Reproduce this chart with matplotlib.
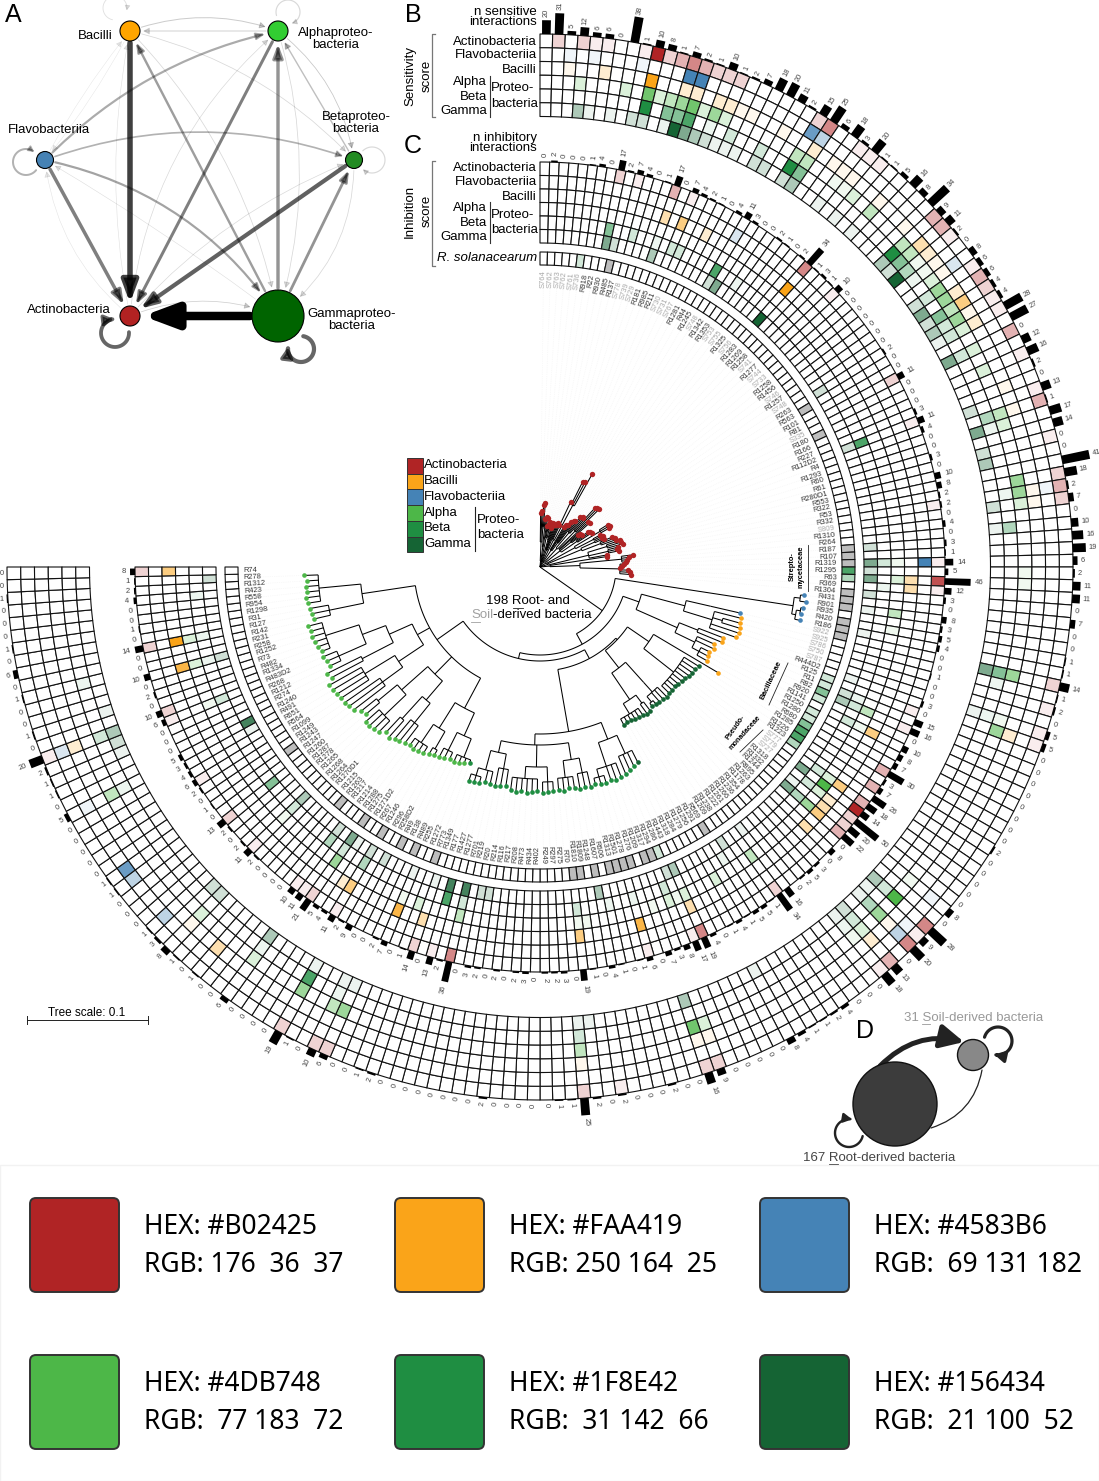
import numpy as np
import matplotlib
matplotlib.use('Agg')
import matplotlib.pyplot as plt
from matplotlib.collections import PolyCollection, LineCollection
from matplotlib.patches import Circle, FancyArrowPatch, FancyBboxPatch, Rectangle
from matplotlib.path import Path

plt.rcParams['font.family'] = ['Liberation Sans', 'DejaVu Sans']

# taxa
taxa = ['Actinobacteria', 'Flavobacteriia', 'Bacilli', 'Alpha', 'Beta', 'Gamma']
row_colors = ['#B02425', '#4583B6', '#FAA419', '#4DB748', '#1F8E42', '#156434']
level_alpha = [0, 0.08, 0.2, 0.35, 0.55, 0.8, 1.0]

# number of interactions, clockwise from the top
n_sensitive = [20, 31, 5, 12, 6, 6, 0, 38, 1, 10, 8, 1, 7, 2, 1, 10, 1, 2, 7, 18,
               20, 11, 2, 15, 25, 6, 18, 3, 20, 1, 1, 5, 16, 8, 34, 9, 11, 2, 0, 8,
               6, 6, 4, 4, 28, 27, 0, 12, 16, 2, 0, 13, 1, 17, 14, 0, 0, 41, 18, 2,
               7, 0, 10, 16, 19, 6, 2, 11, 11, 0, 7, 0, 0, 1, 1, 14, 1, 2, 0, 5,
               5, 0, 0, 0, 0, 0, 0, 0, 0, 2, 0, 0, 0, 0, 0, 8, 0, 28, 9, 20,
               0, 13, 18, 0, 0, 0, 4, 2, 1, 1, 4, 8, 0, 0, 0, 0, 0, 9, 16, 0,
               0, 2, 0, 0, 0, 2, 0, 2, 25, 1, 1, 0, 0, 0, 0, 0, 2, 0, 0, 0,
               0, 0, 0, 0, 0, 2, 1, 0, 0, 6, 10, 0, 1, 19, 0, 0, 0, 0, 6, 0,
               0, 1, 0, 1, 8, 3, 1, 0, 0, 0, 1, 1, 0, 0, 0, 0, 0, 5, 0, 1,
               1, 2, 20, 0, 1, 0, 0, 1, 0, 6, 0, 1, 0, 0, 0, 1, 0, 0]
n_inhibitory = [0, 2, 0, 0, 0, 1, 4, 0, 17, 2, 7, 4, 0, 1, 17, 0, 7, 4, 2, 1,
                0, 4, 11, 3, 0, 0, 2, 1, 0, 2, 34, 1, 3, 1, 10, 0, 0, 0, 0, 0,
                0, 0, 2, 0, 0, 11, 0, 0, 0, 3, 11, 4, 0, 0, 3, 0, 10, 8, 2, 2,
                0, 4, 0, 3, 1, 14, 5, 46, 12, 3, 0, 8, 3, 5, 4, 0, 0, 1, 0, 0,
                3, 0, 15, 16, 0, 10, 8, 7, 30, 3, 7, 26, 18, 14, 50, 20, 22, 0, 8, 0,
                3, 5, 2, 0, 16, 34, 1, 5, 5, 1, 4, 1, 0, 4, 19, 17, 8, 3, 7, 0,
                6, 1, 0, 1, 4, 0, 1, 19, 0, 3, 2, 2, 0, 3, 2, 0, 2, 0, 2, 3,
                0, 36, 2, 13, 0, 14, 1, 0, 7, 2, 0, 0, 9, 2, 11, 4, 5, 21, 11, 10,
                0, 0, 0, 0, 2, 11, 2, 0, 2, 13, 0, 1, 0, 2, 6, 4, 3, 5, 0, 0,
                0, 6, 10, 0, 2, 0, 10, 0, 0, 14, 0, 1, 0, 0, 4, 2, 1, 8]

# score cells as (column, shade level), one list per row
sens_actino = [(1, 2), (3, 2), (4, 1), (5, 1), (8, 1), (9, 6), (10, 2), (11, 3), (12, 4), (13, 3), (14, 2), (15, 2),
               (16, 2), (23, 2), (24, 4), (27, 1), (28, 1), (29, 1), (35, 3), (36, 3), (37, 1), (40, 1), (41, 3),
               (42, 2), (43, 1), (44, 1), (46, 3), (48, 1), (51, 1), (52, 3), (55, 1), (58, 2), (59, 3), (60, 2),
               (75, 2), (77, 1), (79, 1), (80, 1), (97, 4), (98, 1), (99, 4), (101, 3), (102, 1), (117, 2), (118, 2),
               (125, 1), (128, 2), (149, 2), (150, 2), (153, 2), (182, 1)]
sens_flavo = [(2, 1), (4, 1), (8, 1), (12, 6), (13, 6), (23, 5), (24, 3), (39, 2), (59, 1), (95, 1), (98, 1), (99, 3),
              (166, 3), (170, 3), (171, 5), (177, 1), (182, 2)]
sens_bacilli = [(2, 1), (5, 2), (9, 6), (12, 2), (13, 2), (15, 2), (16, 2), (17, 1), (18, 1), (21, 1), (24, 2), (26, 1),
                (27, 1), (28, 1), (31, 1), (34, 1), (36, 3), (37, 2), (38, 1), (39, 1), (41, 2), (42, 4), (43, 1),
                (44, 2), (50, 1), (52, 1), (59, 1), (60, 1), (80, 2), (99, 1), (101, 2), (117, 1), (118, 1), (128, 1),
                (161, 3), (164, 1), (182, 2)]
sens_alpha = [(3, 2), (7, 2), (9, 5), (10, 2), (11, 3), (12, 4), (13, 5), (14, 2), (15, 4), (16, 2), (23, 3), (24, 3),
              (27, 1), (28, 1), (29, 2), (31, 3), (35, 3), (36, 3), (37, 1), (38, 1), (39, 2), (40, 4), (41, 4),
              (42, 3), (43, 4), (44, 2), (46, 2), (48, 2), (52, 3), (53, 2), (58, 4), (59, 4), (60, 2), (66, 1),
              (67, 1), (75, 4), (79, 1), (80, 4), (95, 1), (97, 6), (99, 4), (101, 2), (102, 1), (118, 5), (117, 2),
              (128, 3), (149, 4), (150, 3), (153, 4), (158, 2), (164, 2), (177, 3)]
sens_beta = [(9, 6), (11, 4), (12, 4), (13, 5), (15, 1), (17, 2), (20, 2), (23, 6), (24, 4), (35, 6), (36, 4), (37, 3),
             (38, 1), (40, 2), (42, 4), (43, 2), (44, 2), (46, 2), (52, 3), (53, 1), (59, 1), (62, 3), (75, 4), (76, 1),
             (79, 1), (97, 2), (99, 3), (101, 2), (102, 1), (128, 2), (150, 1), (153, 5), (158, 1), (177, 1), (182, 2),
             (187, 1)]
sens_gamma = [(3, 3), (4, 1), (6, 1), (8, 2), (9, 2), (11, 1), (12, 6), (13, 4), (14, 3), (15, 2), (16, 1), (17, 1),
              (18, 1), (20, 2), (21, 2), (23, 2), (24, 3), (27, 1), (29, 1), (31, 1), (35, 3), (36, 2), (37, 6), (40, 2),
              (41, 4), (42, 2), (43, 3), (44, 1), (46, 4), (51, 2), (53, 4), (55, 2), (56, 3), (60, 2), (62, 1), (75, 4),
              (79, 1), (97, 3), (98, 1), (99, 1), (101, 2), (102, 1), (111, 1), (118, 3), (127, 1), (128, 1), (149, 1),
              (150, 1), (153, 1), (158, 3), (164, 2), (165, 2), (180, 1), (181, 2), (182, 3), (184, 1)]
sens_cells = [sens_actino, sens_flavo, sens_bacilli, sens_alpha, sens_beta, sens_gamma]

inh_actino = [(8, 2), (10, 1), (14, 3), (16, 1), (30, 4), (34, 1), (45, 2), (50, 1), (59, 1), (65, 1), (67, 5), (68, 1),
              (81, 1), (83, 1), (88, 3), (90, 3), (92, 3), (93, 6), (94, 2), (95, 2), (96, 3), (105, 2), (114, 4),
              (115, 1), (120, 1), (141, 4), (143, 1), (145, 2), (154, 1), (157, 2), (158, 1), (159, 1), (165, 1),
              (169, 2), (174, 1), (181, 1), (182, 2), (189, 2), (197, 2)]
inh_flavo = [(22, 2), (65, 6)]
inh_bacilli = [(14, 3), (16, 4), (19, 2), (30, 6), (67, 3), (68, 3), (85, 4), (92, 4), (94, 2), (95, 3), (96, 4), (98, 3),
               (114, 3), (120, 5), (127, 4), (145, 3), (148, 5), (154, 4), (155, 2), (186, 5), (189, 6), (197, 4)]
inh_alpha = [(65, 1), (67, 2), (71, 3), (73, 1), (83, 3), (85, 1), (92, 2), (93, 6), (94, 2), (96, 4), (105, 3), (110, 2),
             (114, 2), (115, 1), (116, 2), (118, 1), (126, 1), (127, 1), (141, 3), (146, 2), (148, 1), (157, 4),
             (165, 1), (181, 1), (186, 2), (189, 2)]
inh_beta = [(8, 4), (11, 2), (14, 1), (16, 2), (17, 2), (22, 5), (25, 1), (50, 5), (65, 2), (68, 1), (82, 1), (83, 2),
            (85, 2), (92, 2), (94, 2), (96, 3), (108, 1), (116, 2), (120, 1), (123, 1), (127, 2), (141, 2), (143, 5),
            (154, 3), (157, 2), (159, 3), (165, 2), (169, 4), (181, 2), (186, 1), (189, 1), (194, 1)]
inh_gamma = [(8, 4), (9, 2), (14, 3), (22, 2), (23, 4), (30, 6), (42, 2), (50, 2), (63, 2), (65, 4), (66, 2), (67, 4),
             (69, 2), (71, 1), (74, 1), (80, 1), (82, 2), (83, 3), (93, 4), (95, 1), (96, 4), (104, 1), (107, 2),
             (114, 3), (115, 2), (124, 3), (138, 2), (139, 2), (141, 5), (143, 5), (145, 1), (148, 1), (152, 2),
             (154, 2), (156, 1), (157, 4), (159, 2), (165, 3), (176, 1), (177, 5), (186, 2), (196, 2)]
inh_cells = [inh_actino, inh_flavo, inh_bacilli, inh_alpha, inh_beta, inh_gamma]

sol_cells = [(5, 2), (66, 5), (67, 3), (81, 2), (82, 2), (83, 4), (84, 2), (86, 2), (87, 2), (88, 4), (89, 5), (90, 5),
             (91, 3), (115, 2)]
sol_grey = [9, 43, 47, 63, 64, 65, 69, 70, 71, 73, 74, 75, 108, 116, 117, 119, 120, 121, 122, 124, 126, 127, 146,
            149, 151, 154, 157, 161, 171]

# strain names, clockwise
strains = ['S764', 'S762', 'S763', 'S762', 'S761', 'S736', 'R918', 'R22', 'R930', 'R485',
           'R137', 'S778', 'S739', 'S729', 'R181', 'R985', 'R211', 'S730', 'S731', 'S767',
           'R1281', 'R44', 'R1245', 'S748', 'R1342', 'R1353', 'S753', 'S755', 'R1325', 'S756',
           'R1283', 'R1269', 'R1258', 'S741', 'R1277', 'S744', 'S733', 'R1258', 'R1456', 'S746',
           'R1257', 'S748', 'R263', 'R563', 'R101', 'R81', 'S335', 'R180', 'R166', 'R227',
           'R112D2', 'R4', 'R1293', 'R60', 'R61', 'R280D1', 'R553', 'R322', 'R53', 'R332',
           'S809', 'R1310', 'R264', 'R187', 'R107', 'R1319', 'R1295', 'R63', 'R369', 'R1304',
           'R431', 'R901', 'R935', 'R420', 'R186', 'S922', 'S925', 'S786', 'S750', 'S787',
           'R444D2', 'R125', 'R11', 'R82', 'R920', 'R1141', 'R1250', 'R1280', 'R680', 'R1285',
           'R1226', 'R1223', 'S777', 'S779', 'S727', 'R1318', 'R1332', 'R1244', 'R895', 'R1263',
           'R1178', 'R1354', 'R1236', 'R1266', 'R1261', 'R1222', 'R1238', 'R1209', 'R569', 'R1291',
           'R1256', 'R1279', 'R1284', 'R1318', 'R1443', 'R1286', 'R1294', 'R1317', 'R1209', 'R1276',
           'R1278', 'R1501', 'R1313', 'R606', 'R1607', 'R1248', 'R1809', 'R1810', 'R70', 'R275',
           'R297', 'R249', 'R402', 'R434', 'R473', 'R208', 'R217', 'R116', 'R214', 'R20',
           'R219', 'R701', 'R1277', 'R1427', 'R177', 'R1349', 'R773', 'R1272', 'R255', 'R489',
           'R138', 'R49', 'R258D2', 'R296', 'R1246', 'R267', 'R1271D2', 'R1275', 'R1288', 'R1214',
           'R1217', 'R1263', 'R1215', 'R1270D1', 'R1264', 'R1268', 'R1265', 'R1278', 'R1287', 'R1260',
           'R1247', 'R1243', 'R1249', 'R1099', 'R564', 'R651', 'R491', 'R1240', 'R274', 'R1212', 'R268',
           'R483D2', 'R1334', 'R482', 'R73', 'R1252', 'R258', 'R231', 'R142', 'R127', 'R31',
           'R1298', 'R954', 'R558', 'R423', 'R1312', 'R278', 'R74']

# phylogeny: [node radius, children...], a bare number is a leaf tip radius
group_sizes = [70, 6, 13, 24, 34, 51]
group_colors = ['#B02425', '#4583B6', '#FAA419', '#156434', '#1F8E42', '#4DB748']
flavo = [256, [262, 266, 268], [260, [264, 266, 265], 265]]
bacilli = [105, [150, [175, 205], [180, 207, [190, 208, 209], 210, 208]],
           [150, [170, 196, 197], [172, 190, 192, [180, 189, 190, 191]]]]
gamma = [106, [132, 207, [170, 187, 186, 185, 184, 183, 182, 181, 180, 180, 180]],
         [128, [155, [168, 182, 181, 180, [175, 180, 179]]],
          [160, [170, 181, 182], [172, 180, 180, 179, 178, 178, 179]]]]
beta = [167, [185, [205, 218, 220, 222, 224], [210, 225, 226, 225, [218, 226, 225, 224]]],
        [178, [195, [210, 226, 225, 226], [212, 224, 223, 225, 224]],
         [200, [215, 224, 225, 226], [212, 224, 225, 226, 225, 226, 225]],
         [190, [205, 222, 223, 224], [210, 223, 222, [218, 224, 225, 226]]]]]
alpha = [126, [160, [185, [205, 208, 210, 212, 213], [205, 212, 214, 215]],
               [190, [210, 216, 218], [212, 220, 221, 222, 220]]],
         [150, [175, [200, 222, 224, 225], [205, 228, 226]], [185, [215, 230, 232, 234, 233], [210, 228, 230]]],
         [140, [170, [195, 235, 236, 238], [205, 238, 240, 241, 242]],
          [165, [200, 236, 238], [190, [220, 232, 233, 235], [225, 234, 236, 237, 238, 238, 239]]]],
         [180, [215, 232, 233, 234], [222, 235, 236, 234, 235, 233, 236]]]
tree = [0,
        [6, [25, 54, 56, [40, 62, 64]], [20, [38, 48, 50], 50]],
        [5, [30, 42, 44, [38, 46, 44]], [28, 40, 46]],
        [5, [18, 44, 46, 45, [30, 48, 46]], [30, 72, [70, 95, 96, 107]]],
        [6, [20, 47, 49, 50, [30, 55, 57, 58]], [25, [45, 64, 66, 65], [50, 80, 82, 83]]],
        [7, [26, 66, 67, [40, 50, 52, 53], [45, 60, 61, 62]], [40, [70, 80, 81, 79], [60, 68, 70]]],
        [8, [45, [60, 68, 70], [65, 78, 80, 81]], [50, [70, 84, 85, 86], [70, 80, 79, 81], 68]],
        [10, 68, [40, [82, 94, 90, 87, 86], [80, 84, 82, 80, 88, 90, 91]]],
        [76, flavo, [88, bacilli, [94, [104, gamma, beta], alpha]]]]

# network A
net_x = [130, 278, 354, 278, 130, 45]
net_y = [31, 31, 160, 316, 316, 160]
net_r = [10, 10, 8.5, 26, 10, 8.5]
net_col = ['#FFA500', '#32CD32', '#228B22', '#006400', '#B22222', '#4682B4']
edge_src = [3, 0, 2, 1, 5, 3, 3, 3, 5, 5, 5, 2, 1, 0, 0, 1, 0, 1, 2, 4, 4, 4, 4, 4, 5, 3, 0]
edge_dst = [4, 4, 4, 4, 4, 1, 2, 0, 3, 1, 2, 1, 0, 1, 2, 2, 3, 3, 3, 3, 2, 1, 0, 5, 0, 5, 5]
edge_w = [8.5, 5.5, 4.2, 3, 3.5, 3.4, 2.8, 2.4, 2.2, 2.2, 1.7, 1.4, 1.2, 1, 0.8, 0.8, 0.8, 0.8, 0.8, 0.8, 0.7, 0.7,
          0.6, 0.6, 0.5, 0.6, 0.5]
edge_a = [1, 0.75, 0.62, 0.5, 0.5, 0.42, 0.42, 0.38, 0.36, 0.33, 0.3, 0.25, 0.15, 0.2, 0.15, 0.22, 0.15, 0.15, 0.15,
          0.18, 0.15, 0.15, 0.12, 0.1, 0.1, 0.13, 0.1]
edge_rad = [0, 0, 0, 0, 0, 0, 0, 0, -0.2, -0.15, -0.18, 0, 0, -0.18, -0.15, -0.2, -0.15, -0.15, -0.25, -0.2, -0.12,
            -0.2, -0.1, -0.2, -0.05, 0.03, -0.05]
loop_nodes = [4, 3, 5, 2, 1, 0]
loop_cx = [115, 301, 26, 372, 288, 115]
loop_cy = [333, 349, 162, 160, 12, 8]
loop_rad = [14, 13, 13, 13, 12, 12]
loop_w = [3.8, 4.2, 2, 1.2, 1.2, 0.9]
loop_a = [0.6, 0.6, 0.3, 0.15, 0.15, 0.12]

swatch_hex = ['#B02425', '#FAA419', '#4583B6', '#4DB748', '#1F8E42', '#156434']
swatch_rgb = ['176  36  37', '250 164  25', ' 69 131 182', ' 77 183  72', ' 31 142  66', ' 21 100  52']

# layout, all in image pixels
W, H = 1099, 1481
CX, CY = 540, 567
STEP = 270.0 / 198


def polar(r, a):
    t = np.radians(a)
    return CX + r * np.sin(t), CY - r * np.cos(t)


def cell_poly(r0, r1, a0, a1):
    angs = np.linspace(a0, a1, 5)
    xo, yo = polar(r1, angs)
    xi, yi = polar(r0, angs[::-1])
    return np.column_stack([np.r_[xo, xi], np.r_[yo, yi]])


def shade(color, lev):
    c = np.array(matplotlib.colors.to_rgb(color))
    al = level_alpha[lev]
    return tuple(1 - al + al * c)


fig = plt.figure(figsize=(W / 100, H / 100), dpi=100)
ax = fig.add_axes([0, 0, 1, 1])
ax.set_xlim(0, W)
ax.set_ylim(H, 0)
ax.axis('off')


def draw_ring(outer, rowh, cells, colors):
    polys, faces = [], []
    for row, lst in enumerate(cells):
        lev = dict(lst)
        for c in range(198):
            r1 = outer - row * rowh
            polys.append(cell_poly(r1 - rowh, r1, c * STEP, (c + 1) * STEP))
            faces.append(shade(colors[row], lev[c]) if c in lev else 'white')
    ax.add_collection(PolyCollection(polys, facecolors=faces, edgecolors='#111111', linewidths=0.8, zorder=2))


def draw_bars(base, values, scale, gap, fontsize):
    polys = []
    for c, v in enumerate(values):
        a = (c + 0.5) * STEP
        if v > 0:
            polys.append(cell_poly(base, base + v * scale + 0.6, a - 0.34 * STEP, a + 0.34 * STEP))
        x, y = polar(base + v * scale + gap, a)
        if a < 180:
            rot, ha = 90 - a, 'left'
        else:
            rot, ha = 270 - a, 'right'
        ax.text(x, y, str(v), rotation=rot, ha=ha, va='center', rotation_mode='anchor', fontsize=fontsize, color='#444444')
    ax.add_collection(PolyCollection(polys, facecolors='black', edgecolors='none', zorder=3))


draw_ring(533, 13.75, sens_cells, row_colors)
draw_bars(533, n_sensitive, 0.66, 3.5, 5.4)
draw_ring(405, 13.5, inh_cells, row_colors)
draw_bars(405, n_inhibitory, 0.55, 5, 5.6)

# R. solanacearum ring
sol_lev = dict(sol_cells)
polys, faces = [], []
for c in range(198):
    polys.append(cell_poly(302, 315, c * STEP, (c + 1) * STEP))
    if c in sol_grey:
        faces.append('#bdbdbd')
    elif c in sol_lev:
        faces.append(shade('#1F8E42', sol_lev[c]))
    else:
        faces.append('white')
ax.add_collection(PolyCollection(polys, facecolors=faces, edgecolors='#111111', linewidths=0.8, zorder=2))

# strain labels
for c, name in enumerate(strains):
    a = (c + 0.5) * STEP
    x, y = polar(297, a)
    col = '#a8a8a8' if name.startswith('S') else '#333333'
    if a < 180:
        ax.text(x, y, name, rotation=90 - a, ha='right', va='center', rotation_mode='anchor', fontsize=5.4, color=col)
    else:
        ax.text(x, y, name, rotation=270 - a, ha='left', va='center', rotation_mode='anchor', fontsize=5.4, color=col)

# tree
segs = []
tips = []


def walk(node):
    if not isinstance(node, list):
        a = (len(tips) + 0.5) * STEP
        tips.append((a, node))
        return a
    r = node[0]
    angs = [walk(k) for k in node[1:]]
    arc = np.linspace(angs[0], angs[-1], max(2, int(abs(angs[-1] - angs[0])) + 2))
    ax_, ay_ = polar(r, arc)
    segs.append(np.column_stack([ax_, ay_]))
    for k, ka in zip(node[1:], angs):
        kr = k[0] if isinstance(k, list) else k
        p0 = polar(r, ka)
        p1 = polar(kr, ka)
        segs.append(np.array([p0, p1]))
    return (angs[0] + angs[-1]) / 2


walk(tree)
ax.add_collection(LineCollection(segs, colors='black', linewidths=0.75, zorder=4))
tip_groups = np.repeat(np.arange(6), group_sizes)
for (a, r), g in zip(tips, tip_groups):
    x0, y0 = polar(r, a)
    x1, y1 = polar(283, a)
    ax.plot([x0, x1], [y0, y1], color='#f3f3f3', lw=0.5, ls=':', zorder=1)
    ax.scatter([x0], [y0], s=15 if g == 0 else 11, color=group_colors[g], linewidths=0, zorder=5)

# network A
for i in range(len(edge_src)):
    s, d = edge_src[i], edge_dst[i]
    w = edge_w[i]
    style = '-|>,head_length=%.2f,head_width=%.2f' % (max(w * 3.2, 5) * 0.72, max(w * 1.2, 2.7) * 0.72)
    ax.add_patch(FancyArrowPatch((net_x[s], net_y[s]), (net_x[d], net_y[d]),
                                 connectionstyle='arc3,rad=%.2f' % edge_rad[i],
                                 arrowstyle=style, mutation_scale=1, lw=w * 0.72, color='black', alpha=edge_a[i],
                                 shrinkA=(net_r[s] + 2) * 0.72, shrinkB=(net_r[d] + 3) * 0.72, zorder=2))


def loop_arrow(nx, ny, lx, ly, rad, w, color, al, head):
    # arc round a loop centre, leaving and coming back near the node
    th = np.degrees(np.arctan2(ny - ly, nx - lx))
    ts = np.radians(np.linspace(th + 45, th + 315, 40))
    pts = np.column_stack([lx + rad * np.cos(ts), ly + rad * np.sin(ts)])
    ax.add_patch(FancyArrowPatch(path=Path(pts), arrowstyle='-|>,head_length=%.2f,head_width=%.2f' % (head, head * 0.55),
                                 mutation_scale=1, lw=w * 0.72, color=color, alpha=al, zorder=2))


for i, n in enumerate(loop_nodes):
    loop_arrow(net_x[n], net_y[n], loop_cx[i], loop_cy[i], loop_rad[i], loop_w[i], 'black', loop_a[i], max(loop_w[i] * 1.4, 3))
for i in range(6):
    ax.add_patch(Circle((net_x[i], net_y[i]), net_r[i], fc=net_col[i], ec='black', lw=0.8, zorder=3))

FS = 9.5
ax.text(336, 39, 'Alphaproteo-\nbacteria', ha='center', va='center', fontsize=FS, linespacing=0.95)
ax.text(356, 123, 'Betaproteo-\nbacteria', ha='center', va='center', fontsize=FS, linespacing=0.95)
ax.text(352, 320, 'Gammaproteo-\nbacteria', ha='center', va='center', fontsize=FS, linespacing=0.95)
ax.text(113, 36, 'Bacilli', ha='right', va='center', fontsize=FS)
ax.text(49, 130, 'Flavobacteriia', ha='center', va='center', fontsize=FS)
ax.text(111, 310, 'Actinobacteria', ha='right', va='center', fontsize=FS)
for s, x, y in [('A', 13, 15), ('B', 413, 15), ('C', 413, 146), ('D', 865, 1031)]:
    ax.text(x, y, s, ha='center', va='center', fontsize=18)

# row labels for B and C


def row_block(ys, yprot, title, ty, xlab, yl, top, bot):
    ax.text(537, ty, title, ha='right', va='center', fontsize=FS, linespacing=0.78)
    for name, y in zip(taxa, ys):
        x = 537 if name not in ('Alpha', 'Beta', 'Gamma') else 487
        ax.text(x, y, name, ha='right', va='center', fontsize=FS)
    ax.plot([490, 490], [ys[3] - 6, ys[5] + 6], color='#333333', lw=0.8)
    ax.text(491, yprot[0], 'Proteo-', ha='left', va='center', fontsize=FS)
    ax.text(491, yprot[1], 'bacteria', ha='left', va='center', fontsize=FS)
    ax.plot([435, 432, 432, 435], [top, top, bot, bot], color='#777777', lw=0.9)
    ax.text(410, yl, xlab, rotation=90, ha='center', va='center', fontsize=FS)
    ax.text(427, yl, 'score', rotation=90, ha='center', va='center', fontsize=FS)


row_block([42, 55, 70, 82, 97, 111], (88, 104), 'n sensitive\ninteractions', 17, 'Sensitivity', 76, 34, 117)
row_block([168, 182, 197, 208, 223, 237], (215, 230), 'n inhibitory\ninteractions', 143, 'Inhibition', 211, 161, 266)
ax.text(537, 258, 'R. solanacearum', ha='right', va='center', fontsize=FS, style='italic')

# legend
leg_names = ['Actinobacteria', 'Bacilli', 'Flavobacteriia', 'Alpha', 'Beta', 'Gamma']
leg_cols = ['#B02425', '#FAA419', '#4583B6', '#4DB748', '#1F8E42', '#156434']
for i, (n, c) in enumerate(zip(leg_names, leg_cols)):
    y = 458 + i * 15.7
    ax.add_patch(Rectangle((407, y), 16, 15.7, fc=c, ec='#333333', lw=0.7))
    ax.text(424, y + 7.5, n, ha='left', va='center', fontsize=FS)
ax.plot([475, 475], [507, 551], color='#222222', lw=0.8)
ax.text(477, 520, 'Proteo-', ha='left', va='center', fontsize=FS)
ax.text(477, 535, 'bacteria', ha='left', va='center', fontsize=FS)

# centre text
ax.text(528, 601, '198 Root- and', ha='center', va='center', fontsize=FS)
ax.plot([513, 523], [608, 608], color='#222222', lw=0.6)
ax.text(471, 615, 'Soil', ha='left', va='center', fontsize=FS, color='#a0a0a0')
ax.text(493, 615, '-derived bacteria', ha='left', va='center', fontsize=FS)
ax.plot([471, 480], [622, 622], color='#a0a0a0', lw=0.6)

# clade labels
ax.text(792, 567, 'Strepto-', rotation=90, ha='center', va='center', fontsize=5.4, fontweight='bold')
ax.text(801, 567, 'mycetaceae', rotation=90, ha='center', va='center', fontsize=5.4, fontweight='bold')
ax.plot([808, 808], [545, 591], color='#222222', lw=0.6)
ax.text(771, 680, 'Bacillaceae', rotation=65, ha='center', va='center', fontsize=5.6, fontweight='bold')
ax.plot([769, 788], [705, 663], color='#222222', lw=0.6)
ax.text(735, 727, 'Pseudo-', rotation=55, ha='center', va='center', fontsize=5.2, fontweight='bold')
ax.text(745, 733, 'monadaceae', rotation=48, ha='center', va='center', fontsize=5.2, fontweight='bold')
ax.plot([740, 763], [752, 730], color='#222222', lw=0.6)

# tree scale
ax.plot([27, 148], [1020, 1020], color='#222222', lw=0.7)
ax.plot([27, 27], [1016, 1024], color='#222222', lw=0.7)
ax.plot([148, 148], [1016, 1024], color='#222222', lw=0.7)
ax.text(87, 1013, 'Tree scale: 0.1', ha='center', va='center', fontsize=8.5)

# panel D
ax.add_patch(FancyArrowPatch((880, 1066), (964, 1042), connectionstyle='arc3,rad=-0.28',
                             arrowstyle='-|>,head_length=14,head_width=7', mutation_scale=1, lw=3.6, color='#222222', shrinkA=0, shrinkB=0, zorder=2))
ax.add_patch(FancyArrowPatch((982, 1070), (931, 1128), connectionstyle='arc3,rad=-0.3',
                             arrowstyle='-', lw=0.9, color='#222222', shrinkA=0, shrinkB=0, zorder=2))
loop_arrow(973, 1055, 998, 1041, 14, 3.2, '#222222', 1, 6)
loop_arrow(895, 1104, 849, 1133, 14, 2.4, '#222222', 1, 5)
ax.add_patch(Circle((895, 1104), 42, fc='#3c3c3c', ec='#111111', lw=1, zorder=3))
ax.add_patch(Circle((973, 1055), 15.5, fc='#888888', ec='#111111', lw=1, zorder=3))
ax.text(904, 1018, '31 Soil-derived bacteria', ha='left', va='center', fontsize=9.5, color='#999999')
ax.plot([922, 930], [1024, 1024], color='#999999', lw=0.6)
ax.text(803, 1158, '167 Root-derived bacteria', ha='left', va='center', fontsize=9.5, color='#444444')
ax.plot([829, 838], [1164, 1164], color='#444444', lw=0.6)

# colour key panel
ax.add_patch(Rectangle((0, 1165), W, 316, fc='white', ec='#f2f2f2', lw=1, zorder=0))
sw_x = [30, 395, 760]
sw_y = [1198, 1355]
for i in range(6):
    x = sw_x[i % 3]
    y = sw_y[i // 3]
    ax.add_patch(FancyBboxPatch((x + 6, y + 6), 77, 82, boxstyle='round,pad=6', fc=swatch_hex[i], ec='#333333', lw=1.4))
    ax.text(x + 114, y + 29, 'HEX: ' + swatch_hex[i], ha='left', va='center', fontsize=19, family='Noto Sans', color='black')
    ax.text(x + 114, y + 67, 'RGB: ' + swatch_rgb[i], ha='left', va='center', fontsize=19, family='Noto Sans', color='black')

fig.savefig('out.png', dpi=100)
